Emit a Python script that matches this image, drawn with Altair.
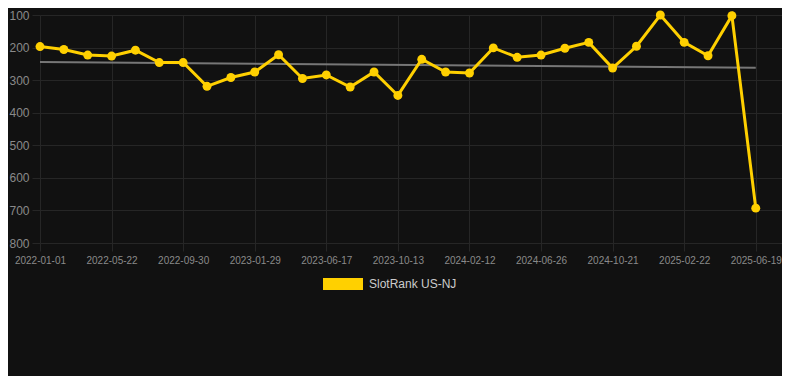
import json
import altair as alt
import pandas as pd

# ---- data ----
tick_labels = ["2022-01-01", "2022-05-22", "2022-09-30", "2023-01-29", "2023-06-17",
               "2023-10-13", "2024-02-12", "2024-06-26", "2024-10-21", "2025-02-22",
               "2025-06-19"]
rank_values = [197, 206, 223, 226, 208, 246, 246, 319, 292, 275,
               222, 295, 284, 321, 275, 347, 236, 275, 278, 201,
               230, 223, 202, 184, 263, 196, 100, 184, 225, 102,
               693]
y_ticks = [100, 200, 300, 400, 500, 600, 700, 800]
trend_index = [0, 30]
trend_values = [244, 262]
series_name = "SlotRank US-NJ"

YELLOW = "#ffd000"
BG = "#111111"
GRID = "#262626"
LABEL = "#8a8a8a"
FONT = "Liberation Sans, Arial, sans-serif"

df = pd.DataFrame({"idx": list(range(len(rank_values))),
                   "rank": rank_values,
                   "series": [series_name] * len(rank_values)})
trend_df = pd.DataFrame({"idx": trend_index, "rank": trend_values})

label_expr = json.dumps(tick_labels) + "[round(datum.value / 3)]"

x_enc = alt.X("idx:Q",
              scale=alt.Scale(domain=[0, 31.1], nice=False, zero=False),
              axis=alt.Axis(values=list(range(0, 31, 3)), labelExpr=label_expr,
                            title=None, grid=True, gridColor=GRID, domain=False,
                            ticks=True, tickColor=GRID, tickSize=8,
                            labelColor=LABEL, labelFont=FONT, labelFontSize=10,
                            labelPadding=4, labelAlign="center", labelFlush=False,
                            labelOverlap=False))
y_enc = alt.Y("rank:Q",
              scale=alt.Scale(domain=[100, 800], reverse=True, nice=False, zero=False),
              axis=alt.Axis(values=y_ticks,
                            title=None, grid=True, gridColor=GRID, domain=False,
                            ticks=True, tickColor=GRID, tickSize=8,
                            labelColor=LABEL, labelFont=FONT, labelFontSize=12,
                            labelPadding=3, labelOverlap=False, labelFlush=False))

trend = alt.Chart(trend_df).mark_line(color="#777777", strokeWidth=2).encode(
    x=x_enc, y=y_enc)

line = alt.Chart(df).mark_line(color=YELLOW, strokeWidth=3).encode(x=x_enc, y=y_enc)

points = alt.Chart(df).mark_point(filled=True, size=80, opacity=1).encode(
    x=x_enc, y=y_enc,
    color=alt.Color("series:N",
                    scale=alt.Scale(range=[YELLOW]),
                    legend=alt.Legend(title=None, orient="none", legendX=283, legendY=249,
                                      symbolType="M-1,-0.3L1,-0.3L1,0.3L-1,0.3Z",
                                      symbolSize=1600, symbolStrokeWidth=0,
                                      labelColor="#cccccc", labelFont=FONT,
                                      labelFontSize=12, labelOffset=6, padding=0)))

chart = alt.layer(trend, line, points).properties(
    width=742, height=228,
    autosize=alt.AutoSizeParams(type="none"),
    padding={"left": 32, "top": 7, "right": 0, "bottom": 133},
    background=BG,
).configure_view(stroke=None).configure_axis(labelOverlap=False)

chart.save("out.html", embed_options={"renderer": "svg", "actions": False})
